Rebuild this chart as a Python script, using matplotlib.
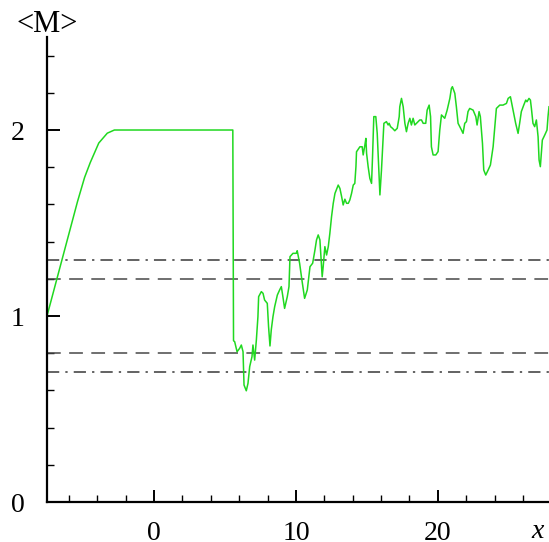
import matplotlib
matplotlib.use("Agg")
import matplotlib.pyplot as plt
from matplotlib.ticker import MultipleLocator

# <M> along x
x_vals = [
  -7.55, -6.5, -5.4, -4.9, -4.5, -3.9, -3.3, -2.8, 5.55, 5.6,
  5.68, 5.85, 6.03, 6.15, 6.27, 6.34, 6.50, 6.62, 6.74, 6.90,
  6.97, 7.09, 7.21, 7.32, 7.37, 7.56, 7.68, 7.79, 7.98, 8.07,
  8.17, 8.26, 8.38, 8.50, 8.69, 8.85, 8.97, 9.08, 9.20, 9.39,
  9.51, 9.58, 9.79, 10.02, 10.09, 10.26, 10.42, 10.61, 10.80, 10.99,
  11.18, 11.34, 11.45, 11.57, 11.69, 11.76, 11.85, 11.92, 12.04, 12.16,
  12.28, 12.39, 12.51, 12.63, 12.75, 12.98, 13.10, 13.22, 13.33, 13.45,
  13.57, 13.69, 13.80, 13.92, 14.04, 14.15, 14.23, 14.27, 14.51, 14.67,
  14.74, 14.86, 14.93, 14.98, 15.09, 15.21, 15.33, 15.40, 15.49, 15.63,
  15.73, 15.84, 15.92, 16.03, 16.20, 16.38, 16.50, 16.57, 16.67, 16.81,
  16.97, 17.14, 17.28, 17.32, 17.44, 17.56, 17.68, 17.79, 17.91, 18.03,
  18.14, 18.26, 18.38, 18.50, 18.61, 18.73, 18.85, 18.97, 19.15, 19.25,
  19.39, 19.49, 19.55, 19.67, 19.86, 20.02, 20.14, 20.26, 20.49, 20.66,
  20.85, 20.96, 21.03, 21.20, 21.31, 21.43, 21.55, 21.67, 21.78, 21.90,
  22.02, 22.13, 22.25, 22.49, 22.68, 22.77, 22.91, 23.00, 23.15, 23.24,
  23.38, 23.55, 23.71, 23.90, 24.02, 24.13, 24.37, 24.60, 24.84, 24.96,
  25.12, 25.31, 25.49, 25.66, 25.77, 25.89, 26.06, 26.20, 26.29, 26.43,
  26.53, 26.60, 26.71, 26.83, 26.95, 27.07, 27.14, 27.23, 27.37, 27.54,
  27.70, 27.77, 27.84,
]
m_vals = [
  1.0, 1.30, 1.615, 1.745, 1.825, 1.93, 1.983, 2.0, 2.0, 0.867,
  0.862, 0.808, 0.826, 0.844, 0.808, 0.629, 0.598, 0.638, 0.728, 0.781,
  0.844, 0.763, 0.871, 0.996, 1.104, 1.131, 1.122, 1.086, 1.068, 0.943,
  0.839, 0.925, 0.996, 1.050, 1.113, 1.140, 1.158, 1.104, 1.041, 1.104,
  1.158, 1.319, 1.337, 1.337, 1.351, 1.283, 1.194, 1.095, 1.140, 1.265,
  1.284, 1.355, 1.409, 1.436, 1.409, 1.319, 1.211, 1.265, 1.373, 1.328,
  1.373, 1.444, 1.534, 1.606, 1.659, 1.704, 1.686, 1.642, 1.597, 1.628,
  1.606, 1.606, 1.624, 1.659, 1.704, 1.713, 1.803, 1.883, 1.910, 1.910,
  1.866, 1.919, 1.955, 1.875, 1.803, 1.740, 1.713, 1.857, 2.072, 2.072,
  1.982, 1.785, 1.651, 1.785, 2.036, 2.045, 2.027, 2.036, 2.018, 2.009,
  1.996, 2.009, 2.072, 2.125, 2.170, 2.125, 2.036, 1.991, 2.036, 2.063,
  2.027, 2.063, 2.027, 2.036, 2.045, 2.054, 2.054, 2.036, 2.036, 2.107,
  2.134, 2.072, 1.910, 1.866, 1.866, 1.884, 2.000, 2.081, 2.063, 2.107,
  2.170, 2.224, 2.233, 2.197, 2.125, 2.036, 2.018, 2.000, 1.982, 2.036,
  2.045, 2.099, 2.116, 2.107, 2.072, 2.027, 2.099, 2.072, 1.928, 1.785,
  1.758, 1.785, 1.812, 1.910, 2.018, 2.116, 2.134, 2.134, 2.143, 2.170,
  2.179, 2.107, 2.036, 1.982, 2.036, 2.099, 2.134, 2.161, 2.152, 2.170,
  2.161, 2.116, 2.036, 2.018, 2.054, 1.964, 1.839, 1.803, 1.946, 1.973,
  2.000, 2.072, 2.125,
]

# reference levels
dashdot_levels = [1.3, 0.7]
dashed_levels = [1.2, 0.8]

plt.rcParams["font.family"] = "Liberation Serif"

fig = plt.figure(figsize=(5.49, 5.42), dpi=100)
ax = fig.add_axes([0.0856, 0.0738, 0.9144, 0.8579])

ax.set_xlim(-7.55, 27.84)
ax.set_ylim(0, 2.5)

for lvl in dashdot_levels:
  ax.axhline(lvl, color="#383838", lw=1.1, dashes=(8, 4, 1.5, 4))
for lvl in dashed_levels:
  ax.axhline(lvl, color="#484848", lw=1.1, dashes=(9, 5.5))

ax.plot(x_vals, m_vals, color="#20d820", lw=1.1)

for side in ("top", "right"):
  ax.spines[side].set_visible(False)
for side in ("left", "bottom"):
  ax.spines[side].set_linewidth(1.6)
  ax.spines[side].set_color("black")

ax.xaxis.set_major_locator(MultipleLocator(10))
ax.xaxis.set_minor_locator(MultipleLocator(2))
ax.yaxis.set_major_locator(MultipleLocator(1))
ax.yaxis.set_minor_locator(MultipleLocator(0.2))

ax.tick_params(which="both", direction="in", color="black")
ax.tick_params(which="major", length=9, width=1.4, labelsize=20)
ax.tick_params(which="minor", length=5, width=1.0)
ax.tick_params(axis="y", which="major", pad=16)
ax.tick_params(axis="x", which="major", pad=14)

fig.text(0.0856, 0.955, "<M>", ha="center", va="center", fontsize=22)
fig.text(0.98, 0.02, "x", ha="center", va="center", fontsize=20, style="italic")

fig.savefig("out.png", dpi=100, facecolor="white")
